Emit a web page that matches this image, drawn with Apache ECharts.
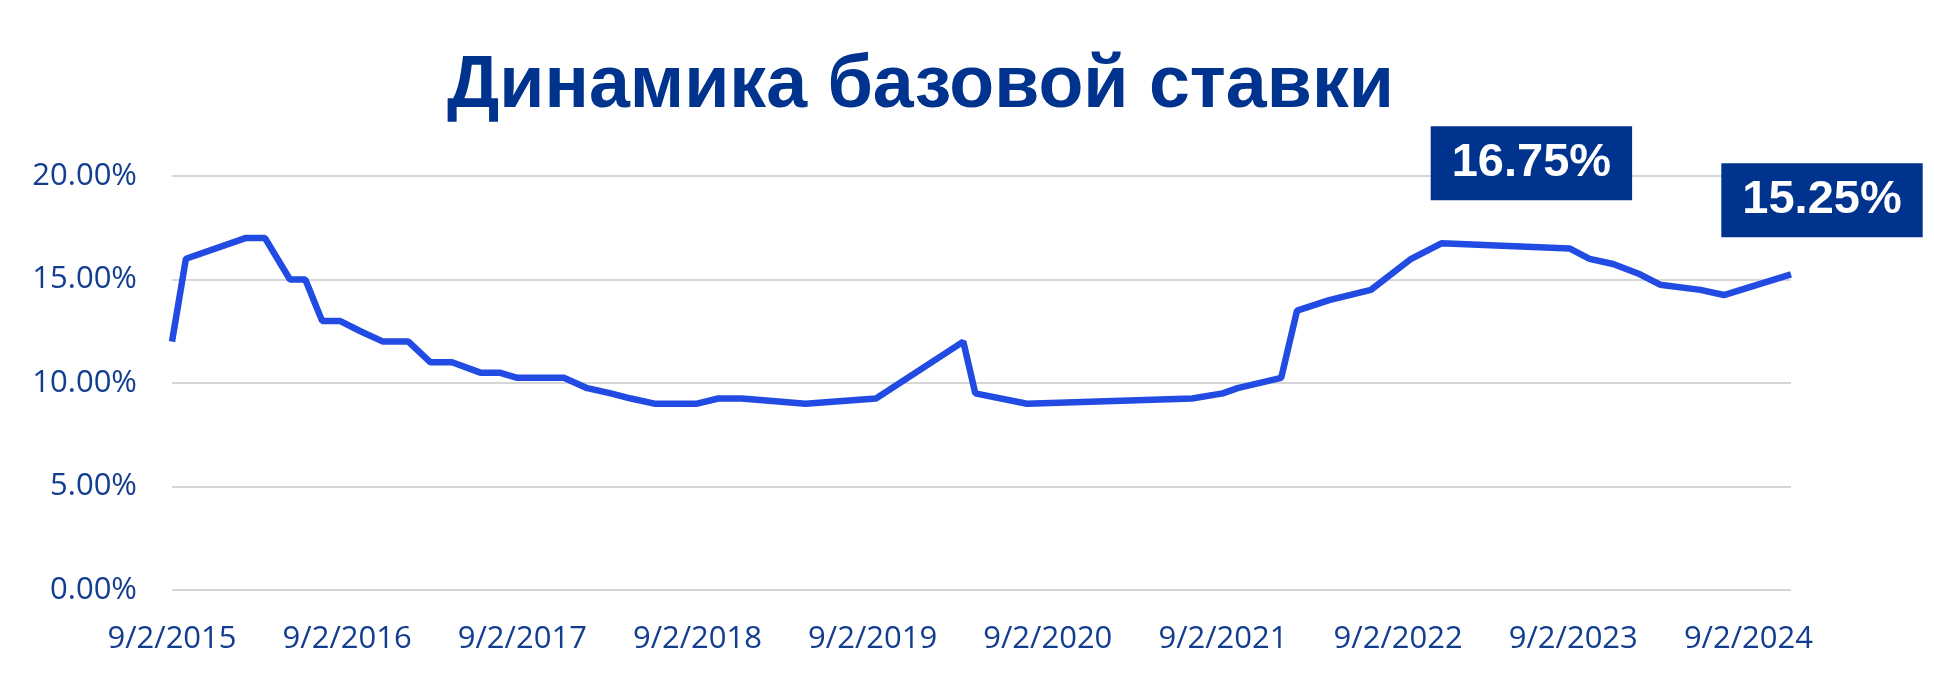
<!DOCTYPE html>
<html lang="ru">
<head>
    <meta charset="UTF-8">
    <title>Динамика базовой ставки</title>
    <script src="https://cdn.jsdelivr.net/npm/echarts@6/dist/echarts.min.js"></script>
</head>
<body style="height: 100%; margin: 0; background: #fff;">
<div id="container" style="width: 1934px; height: 687px;"></div>
<script type="text/javascript">

    // dates of the rate decisions and the rate after each one, %
    const dates = [
        '2015-09-02', '2015-10-01', '2016-02-02', '2016-03-14', '2016-05-05', '2016-06-06',
        '2016-07-11', '2016-08-17', '2016-09-29', '2016-11-15', '2017-01-07', '2017-02-22',
        '2017-04-08', '2017-06-06', '2017-07-16', '2017-08-22', '2017-11-27', '2018-01-15',
        '2018-03-05', '2018-04-16', '2018-06-04', '2018-09-01', '2018-10-15', '2018-12-03',
        '2019-04-15', '2019-09-09', '2020-03-09', '2020-04-03', '2020-07-20', '2021-06-29',
        '2021-09-01', '2021-10-02', '2022-01-01', '2022-02-03', '2022-04-11', '2022-07-07',
        '2022-09-29', '2022-12-01', '2023-08-25', '2023-10-06', '2023-11-24', '2024-01-19',
        '2024-03-01', '2024-05-24', '2024-07-12', '2024-11-29'
    ];
    const rates = [
        12, 16, 17, 17, 15, 15,
        13, 13, 12.5, 12, 12, 11,
        11, 10.5, 10.5, 10.25, 10.25, 9.75,
        9.5, 9.25, 9, 9, 9.25, 9.25,
        9, 9.25, 12, 9.5, 9, 9.25,
        9.5, 9.75, 10.25, 13.5, 14, 14.5,
        16, 16.75, 16.5, 16, 15.75, 15.25,
        14.75, 14.5, 14.25, 15.25
    ];
    // x axis labels, one per year from the first date
    const tickLabels = ['9/2/2015', '9/2/2016', '9/2/2017', '9/2/2018', '9/2/2019',
        '9/2/2020', '9/2/2021', '9/2/2022', '9/2/2023', '9/2/2024'];
    const yTicks = [0, 5, 10, 15, 20];
    // points that get a callout box: the peak and the latest value
    const calloutIdx = [37, 45];

    const DAY = 86400000;
    const YEAR = 365.25;

    function toDays(s) {
        let p = s.split('-');
        return (Date.UTC(+p[0], p[1] - 1, +p[2]) - Date.UTC(2015, 8, 2)) / DAY;
    }

    let lineData = dates.map(function (d, i) {
        return [toDays(d), rates[i]];
    });
    let calloutOffsets = [[90, -80], [31, -74]];
    let calloutData = calloutIdx.map(function (idx, k) {
        return {
            value: lineData[idx],
            label: {offset: calloutOffsets[k]}
        };
    });

    let dom = document.getElementById("container");
    let myChart = echarts.init(dom);

    let textColor = '#133d8f';
    let navy = '#00338d';

    let option = {
        animation: false,
        title: {
            text: 'Динамика базовой ставки',
            left: 442,
            top: 45,
            textStyle: {
                fontFamily: '"Liberation Sans", Arial, sans-serif',
                fontSize: 73.5,
                fontWeight: 'bold',
                color: navy
            }
        },
        grid: {
            left: 172,
            right: 143,
            top: 176,
            bottom: 97,
            containLabel: false
        },
        xAxis: {
            type: 'value',
            min: 0,
            max: lineData[lineData.length - 1][0],
            interval: YEAR,
            axisLine: {show: false},
            axisTick: {show: false},
            splitLine: {show: false},
            axisLabel: {
                margin: 34,
                showMaxLabel: false,
                color: textColor,
                fontFamily: '"Open Sans", sans-serif',
                fontSize: 31,
                formatter: function (v) {
                    let k = Math.round(v / YEAR);
                    if (Math.abs(v / YEAR - k) > 0.01) return '';
                    return tickLabels[k] || '';
                }
            }
        },
        yAxis: {
            type: 'value',
            min: yTicks[0],
            max: yTicks[yTicks.length - 1],
            interval: yTicks[1] - yTicks[0],
            axisLine: {show: false},
            axisTick: {show: false},
            splitLine: {lineStyle: {color: '#d6d6d6', width: 2}},
            axisLabel: {
                margin: 35,
                color: textColor,
                fontFamily: '"Open Sans", sans-serif',
                fontSize: 31,
                formatter: function (v) {
                    return v.toFixed(2) + '%';
                }
            }
        },
        series: [{
            type: 'line',
            data: lineData,
            showSymbol: false,
            lineStyle: {color: '#214be2', width: 6.5},
            z: 2
        }, {
            type: 'scatter',
            data: calloutData,
            symbolSize: 1,
            itemStyle: {color: 'rgba(0,0,0,0)', opacity: 1},
            z: 5,
            label: {
                show: true,
                position: 'inside',
                formatter: function (p) {
                    return p.value[1].toFixed(2) + '%';
                },
                backgroundColor: navy,
                color: '#fff',
                opacity: 1,
                fontFamily: '"Liberation Sans", Arial, sans-serif',
                fontSize: 47,
                fontWeight: 'bold',
                lineHeight: 47,
                padding: [14, 21, 13, 21]
            }
        }]
    };
    myChart.setOption(option, true);

</script>
</body>
</html>
